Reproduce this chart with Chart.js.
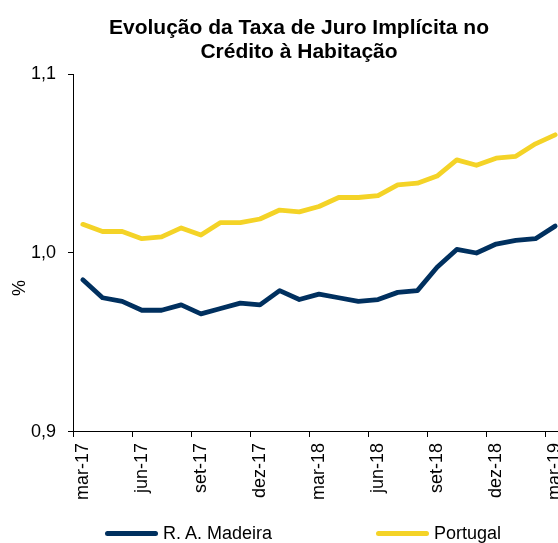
<!DOCTYPE html>
<html>
<head>
<meta charset="utf-8">
<script src="https://cdn.jsdelivr.net/npm/chart.js@4.4.1/dist/chart.umd.min.js"></script>
<style>
  html, body { margin: 0; padding: 0; background: #fff; overflow: hidden; }
  #wrap { position: relative; width: 598px; height: 543px; }
  #legend { position: absolute; left: 0; top: 523px; width: 558px; height: 20px;
            font: 18px "Liberation Sans", Arial, sans-serif; color: #000; }
  #legend .item { position: absolute; top: 0; height: 20px; line-height: 20px;
                  display: flex; align-items: center; white-space: nowrap; }
  #legend .swatch { display: inline-block; width: 53px; height: 5px; border-radius: 3px; margin-right: 5px; }
</style>
</head>
<body>
<div id="wrap">
  <canvas id="chart"></canvas>
  <div id="legend"></div>
</div>
<script>
    const months = [
      "mar-17", "abr-17", "mai-17", "jun-17", "jul-17", "ago-17", "set-17", "out-17", "nov-17",
      "dez-17", "jan-18", "fev-18", "mar-18", "abr-18", "mai-18", "jun-18", "jul-18", "ago-18",
      "set-18", "out-18", "nov-18", "dez-18", "jan-19", "fev-19", "mar-19"
    ];

    const madeira = [
      0.985, 0.975, 0.973, 0.968, 0.968, 0.971, 0.966, 0.969, 0.972,
      0.971, 0.979, 0.974, 0.977, 0.975, 0.973, 0.974, 0.978, 0.979,
      0.992, 1.002, 1.000, 1.005, 1.007, 1.008, 1.015
    ];

    const portugal = [
      1.016, 1.012, 1.012, 1.008, 1.009, 1.014, 1.010, 1.017, 1.017,
      1.019, 1.024, 1.023, 1.026, 1.031, 1.031, 1.032, 1.038, 1.039,
      1.043, 1.052, 1.049, 1.053, 1.054, 1.061, 1.066
    ];

    const yTicks = [0.9, 1.0, 1.1];

    const seriesNames = ["R. A. Madeira", "Portugal"];
    const navy = "#00305f";
    const yellow = "#f4d327";
    const fontFamily = '"Liberation Sans", Arial, sans-serif';

    const chart = new Chart(document.getElementById("chart"), {
      type: "line",
      data: {
        labels: months,
        datasets: [
          { label: seriesNames[0], data: madeira, borderColor: navy, backgroundColor: navy },
          { label: seriesNames[1], data: portugal, borderColor: yellow, backgroundColor: yellow }
        ]
      },
      options: {
        responsive: true,
        maintainAspectRatio: false,
        animation: false,
        layout: { padding: { left: 0, right: 0, top: 0, bottom: 37 } },
        elements: {
          line: { borderWidth: 4.8, tension: 0, borderCapStyle: "round", borderJoinStyle: "round" },
          point: { radius: 0, hoverRadius: 0 }
        },
        plugins: {
          legend: { display: false },
          tooltip: { enabled: false },
          title: {
            display: true,
            text: ["Evolução da Taxa de Juro Implícita no", "Crédito à Habitação"],
            color: "#000",
            font: { family: fontFamily, size: 21, weight: "bold", lineHeight: 1.143 },
            padding: { top: 16, bottom: 10 }
          }
        },
        scales: {
          x: {
            offset: true,
            grid: {
              offset: true,
              drawOnChartArea: false,
              tickLength: 5,
              tickColor: ctx => (ctx.index % 3 === 0 ? "#000" : "rgba(0,0,0,0)")
            },
            border: { color: "#000", width: 1 },
            ticks: {
              autoSkip: false,
              maxRotation: 90,
              minRotation: 90,
              padding: 6,
              color: "#000",
              font: { family: fontFamily, size: 18 },
              callback: function (value, index) {
                return index % 3 === 0 ? this.getLabelForValue(value) : "";
              }
            }
          },
          y: {
            min: 0.9,
            max: 1.1,
            afterBuildTicks: axis => {
              axis.ticks = yTicks.map(v => ({ value: v }));
            },
            afterFit: axis => { axis.width = 73; },
            grid: { drawOnChartArea: false, tickLength: 5, tickColor: "#000" },
            border: { color: "#000", width: 1 },
            ticks: {
              padding: 12,
              color: "#000",
              font: { family: fontFamily, size: 18 },
              callback: v => v.toFixed(1).replace(".", ",")
            },
            title: {
              display: true,
              // trailing spaces push the % sign below the middle, like the original
              text: "%" + " ".repeat(14),
              color: "#000",
              font: { family: fontFamily, size: 18 },
              padding: { top: 9, bottom: 0 }
            }
          },
          // empty box on the right so the plot runs past the window edge
          spacer: {
            type: "linear",
            position: "right",
            display: true,
            grid: { display: false },
            border: { display: false },
            ticks: { display: false },
            afterFit: axis => { axis.width = 33; }
          }
        }
      }
    });

    // legend as plain html, built from the datasets
    const legendLeft = [105, 376];
    const legendEl = document.getElementById("legend");
    chart.data.datasets.forEach((ds, i) => {
      const item = document.createElement("div");
      item.className = "item";
      item.style.left = legendLeft[i] + "px";
      const sw = document.createElement("span");
      sw.className = "swatch";
      sw.style.background = ds.borderColor;
      const txt = document.createElement("span");
      txt.textContent = ds.label;
      item.appendChild(sw);
      item.appendChild(txt);
      legendEl.appendChild(item);
    });
</script>
</body>
</html>
